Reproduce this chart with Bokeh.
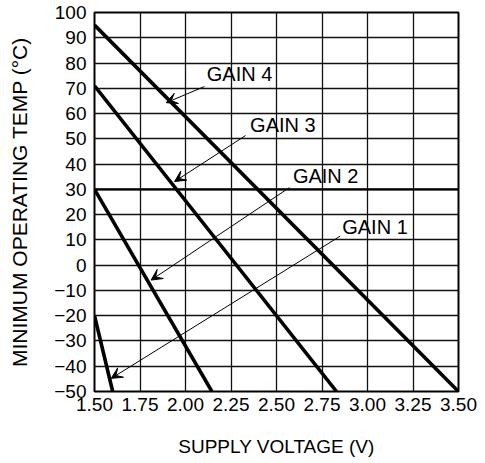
from bokeh.plotting import figure
from bokeh.models import FixedTicker, Arrow, VeeHead, Span, Label
from bokeh.embed import file_html
from bokeh.resources import INLINE

# ---- data ----
x_ticks = [1.50, 1.75, 2.00, 2.25, 2.50, 2.75, 3.00, 3.25, 3.50]
y_ticks = [-50, -40, -30, -20, -10, 0, 10, 20, 30, 40, 50, 60, 70, 80, 90, 100]

gain4_v = [1.50, 3.50]
gain4_t = [95, -50]
gain3_v = [1.50, 2.83]
gain3_t = [71, -50]
gain2_v = [1.50, 2.145]
gain2_t = [30, -50]
gain1_v = [1.50, 1.60]
gain1_t = [-20, -50]

labels = ["GAIN 4", "GAIN 3", "GAIN 2", "GAIN 1"]
label_x = [2.117, 2.355, 2.590, 2.861]
label_y = [75.5, 55.6, 35.4, 15.0]
arrow_from_x = [2.104, 2.33, 2.571, 2.850]
arrow_from_y = [70.7, 51.3, 30.7, 11.5]
arrow_to_x = [1.894, 1.94, 1.811, 1.592]
arrow_to_y = [64.3, 33.1, -5.9, -44.8]

FONT = "Liberation Sans"

p = figure(width=477, height=463, x_range=(1.5, 3.5), y_range=(-50, 100),
           output_backend="svg", toolbar_location=None,
           min_border_left=94, min_border_right=19, min_border_top=12, min_border_bottom=72)

p.background_fill_color = "white"
p.border_fill_color = "white"
p.outline_line_color = "black"
p.outline_line_width = 2

for ax in (p.xaxis[0], p.yaxis[0]):
    ax.major_tick_line_color = None
    ax.minor_tick_line_color = None
    ax.major_tick_out = 0
    ax.major_tick_in = 0
    ax.axis_line_color = None
    ax.major_label_text_font = FONT
    ax.major_label_text_font_size = "19px"
    ax.major_label_text_color = "black"
    ax.axis_label_text_font = FONT
    ax.axis_label_text_font_style = "normal"
    ax.axis_label_text_color = "black"

p.xaxis.ticker = FixedTicker(ticks=x_ticks)
p.yaxis.ticker = FixedTicker(ticks=y_ticks)
p.xaxis.major_label_overrides = {t: f"{t:.2f}" for t in x_ticks}
p.xaxis.major_label_standoff = 6
p.yaxis.major_label_standoff = 8
p.xaxis.axis_label = "SUPPLY VOLTAGE (V)"
p.yaxis.axis_label = "MINIMUM OPERATING TEMP (°C)"
p.xaxis.axis_label_text_font_size = "19px"
p.yaxis.axis_label_text_font_size = "21px"
p.xaxis.axis_label_standoff = 22
p.yaxis.axis_label_standoff = 20

p.xgrid.ticker = FixedTicker(ticks=x_ticks)
p.ygrid.ticker = FixedTicker(ticks=y_ticks)
for g in (p.xgrid[0], p.ygrid[0]):
    g.grid_line_color = "#111111"
    g.grid_line_width = 1.3
    g.grid_line_alpha = 1.0

p.add_layout(Span(location=30, dimension="width", line_color="black", line_width=2.2))

for xs, ys in ((gain4_v, gain4_t), (gain3_v, gain3_t), (gain2_v, gain2_t), (gain1_v, gain1_t)):
    p.line(xs, ys, line_color="black", line_width=3.6)

for i in range(len(labels)):
    p.add_layout(Arrow(x_start=arrow_from_x[i], y_start=arrow_from_y[i],
                       x_end=arrow_to_x[i], y_end=arrow_to_y[i],
                       line_color="black", line_width=1,
                       end=VeeHead(size=11, fill_color="black", line_color="black", line_width=1)))
    p.add_layout(Label(x=label_x[i], y=label_y[i], text=labels[i],
                       text_font=FONT, text_font_size="20px", text_color="black",
                       text_baseline="middle", text_align="left"))

open("out.html", "w").write(file_html(p, INLINE))
